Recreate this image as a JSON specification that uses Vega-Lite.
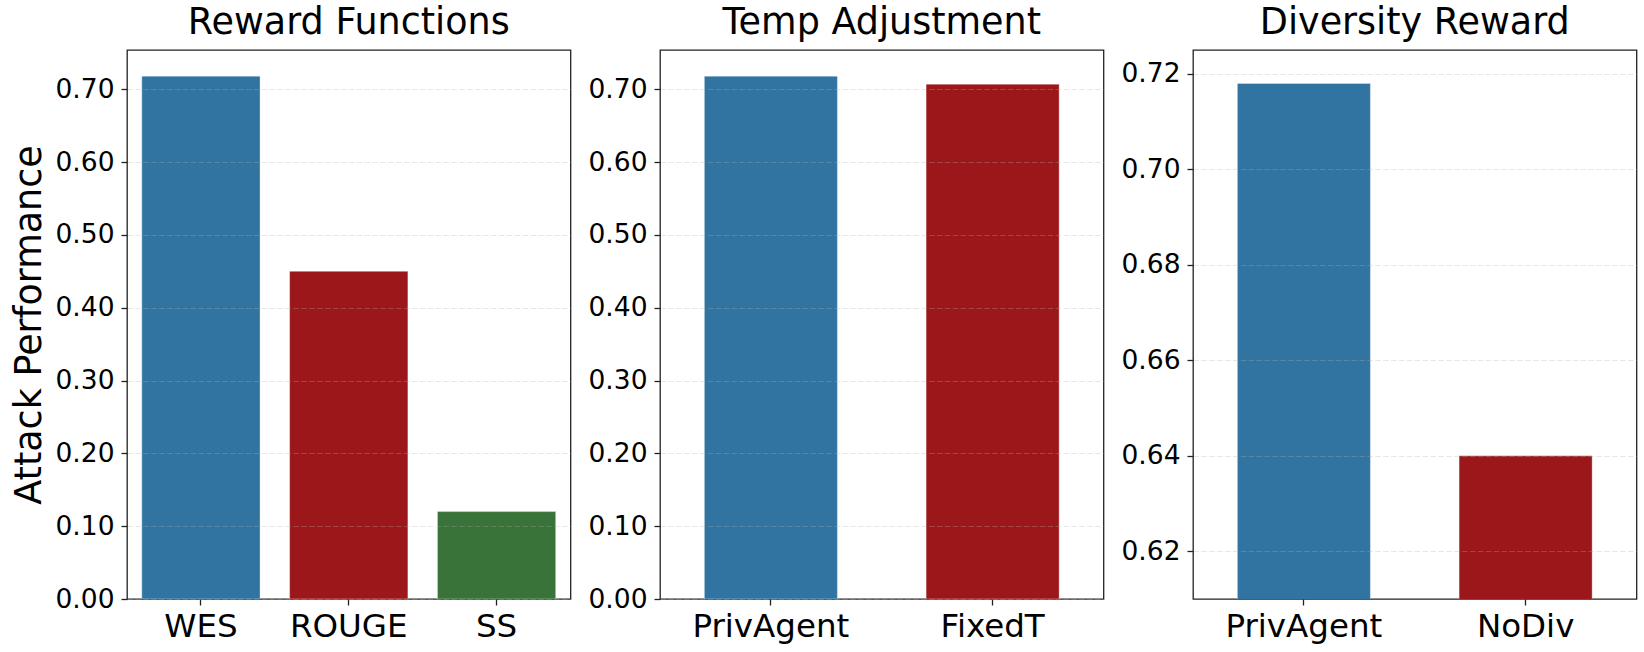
{
  "$schema": "https://vega.github.io/schema/vega-lite/v6.json",
  "background": "white",
  "padding": {"left": 11, "top": 3, "right": 5, "bottom": 5},
  "bounds": "flush",
  "spacing": 89,
  "config": {
    "font": "DejaVu Sans",
    "view": {"stroke": "#222222", "strokeWidth": 1.3},
    "axis": {
      "labelFont": "DejaVu Sans",
      "titleFont": "DejaVu Sans",
      "labelColor": "black",
      "titleColor": "black",
      "tickColor": "#222222",
      "tickSize": 6,
      "tickWidth": 1.3,
      "domain": false
    },
    "bar": {"stroke": "white", "strokeWidth": 1, "strokeOpacity": 0.35},
    "title": {"font": "DejaVu Sans", "fontSize": 36.5, "fontWeight": "normal", "color": "black", "baseline": "alphabetic", "offset": 9, "frame": "group", "anchor": "middle"}
  },
  "hconcat": [
    {
      "width": 443.5,
      "height": 549,
      "title": "Reward Functions",
      "data": {"values": [
        {"method": "WES", "value": 0.718},
        {"method": "ROUGE", "value": 0.45},
        {"method": "SS", "value": 0.12}
      ]},
      "mark": {"type": "bar", "clip": true},
      "encoding": {
        "x": {"field": "method", "type": "nominal", "sort": null,
          "scale": {"paddingInner": 0.2, "paddingOuter": 0.1},
          "axis": {"title": null, "labelAngle": 0, "labelFontSize": 32.5, "labelPadding": 5, "grid": false}},
        "y": {"field": "value", "type": "quantitative",
          "scale": {"domain": [0, 0.7539], "nice": false, "zero": true},
          "axis": {"title": "Attack Performance", "titleFontSize": 36.5, "titleFontWeight": "normal", "titlePadding": 6,
            "labelFontSize": 26.5, "labelPadding": 7, "format": ".2f",
            "values": [0, 0.1, 0.2, 0.3, 0.4, 0.5, 0.6, 0.7],
            "grid": true, "gridColor": "#b0b0b0", "gridOpacity": 0.3, "gridDash": [5.5, 2.4], "gridWidth": 1.2, "zindex": 1}},
        "color": {"field": "method", "type": "nominal",
          "scale": {"domain": ["WES", "ROUGE", "SS", "PrivAgent", "FixedT", "NoDiv"], "range": ["#3274a1", "#9b1719", "#3a7339", "#3274a1", "#9b1719", "#9b1719"]},
          "legend": null}
      }
    },
    {
      "width": 443.5,
      "height": 549,
      "title": "Temp Adjustment",
      "data": {"values": [
        {"method": "PrivAgent", "value": 0.718},
        {"method": "FixedT", "value": 0.707}
      ]},
      "mark": {"type": "bar", "clip": true},
      "encoding": {
        "x": {"field": "method", "type": "nominal", "sort": null,
          "scale": {"paddingInner": 0.4, "paddingOuter": 0.2},
          "axis": {"title": null, "labelAngle": 0, "labelFontSize": 32.5, "labelPadding": 5, "grid": false}},
        "y": {"field": "value", "type": "quantitative",
          "scale": {"domain": [0, 0.7539], "nice": false, "zero": true},
          "axis": {"title": null,
            "labelFontSize": 26.5, "labelPadding": 7, "format": ".2f",
            "values": [0, 0.1, 0.2, 0.3, 0.4, 0.5, 0.6, 0.7],
            "grid": true, "gridColor": "#b0b0b0", "gridOpacity": 0.3, "gridDash": [5.5, 2.4], "gridWidth": 1.2, "zindex": 1}},
        "color": {"field": "method", "type": "nominal",
          "scale": {"domain": ["WES", "ROUGE", "SS", "PrivAgent", "FixedT", "NoDiv"], "range": ["#3274a1", "#9b1719", "#3a7339", "#3274a1", "#9b1719", "#9b1719"]},
          "legend": null}
      }
    },
    {
      "width": 443.5,
      "height": 549,
      "title": "Diversity Reward",
      "data": {"values": [
        {"method": "PrivAgent", "value": 0.718},
        {"method": "NoDiv", "value": 0.64}
      ]},
      "mark": {"type": "bar", "clip": true},
      "encoding": {
        "x": {"field": "method", "type": "nominal", "sort": null,
          "scale": {"paddingInner": 0.4, "paddingOuter": 0.2},
          "axis": {"title": null, "labelAngle": 0, "labelFontSize": 32.5, "labelPadding": 5, "grid": false}},
        "y": {"field": "value", "type": "quantitative",
          "scale": {"domain": [0.61, 0.725], "nice": false, "zero": false},
          "axis": {"title": null,
            "labelFontSize": 26.5, "labelPadding": 7, "format": ".2f",
            "values": [0.62, 0.64, 0.66, 0.68, 0.7, 0.72],
            "grid": true, "gridColor": "#b0b0b0", "gridOpacity": 0.3, "gridDash": [5.5, 2.4], "gridWidth": 1.2, "zindex": 1}},
        "color": {"field": "method", "type": "nominal",
          "scale": {"domain": ["WES", "ROUGE", "SS", "PrivAgent", "FixedT", "NoDiv"], "range": ["#3274a1", "#9b1719", "#3a7339", "#3274a1", "#9b1719", "#9b1719"]},
          "legend": null}
      }
    }
  ]
}
